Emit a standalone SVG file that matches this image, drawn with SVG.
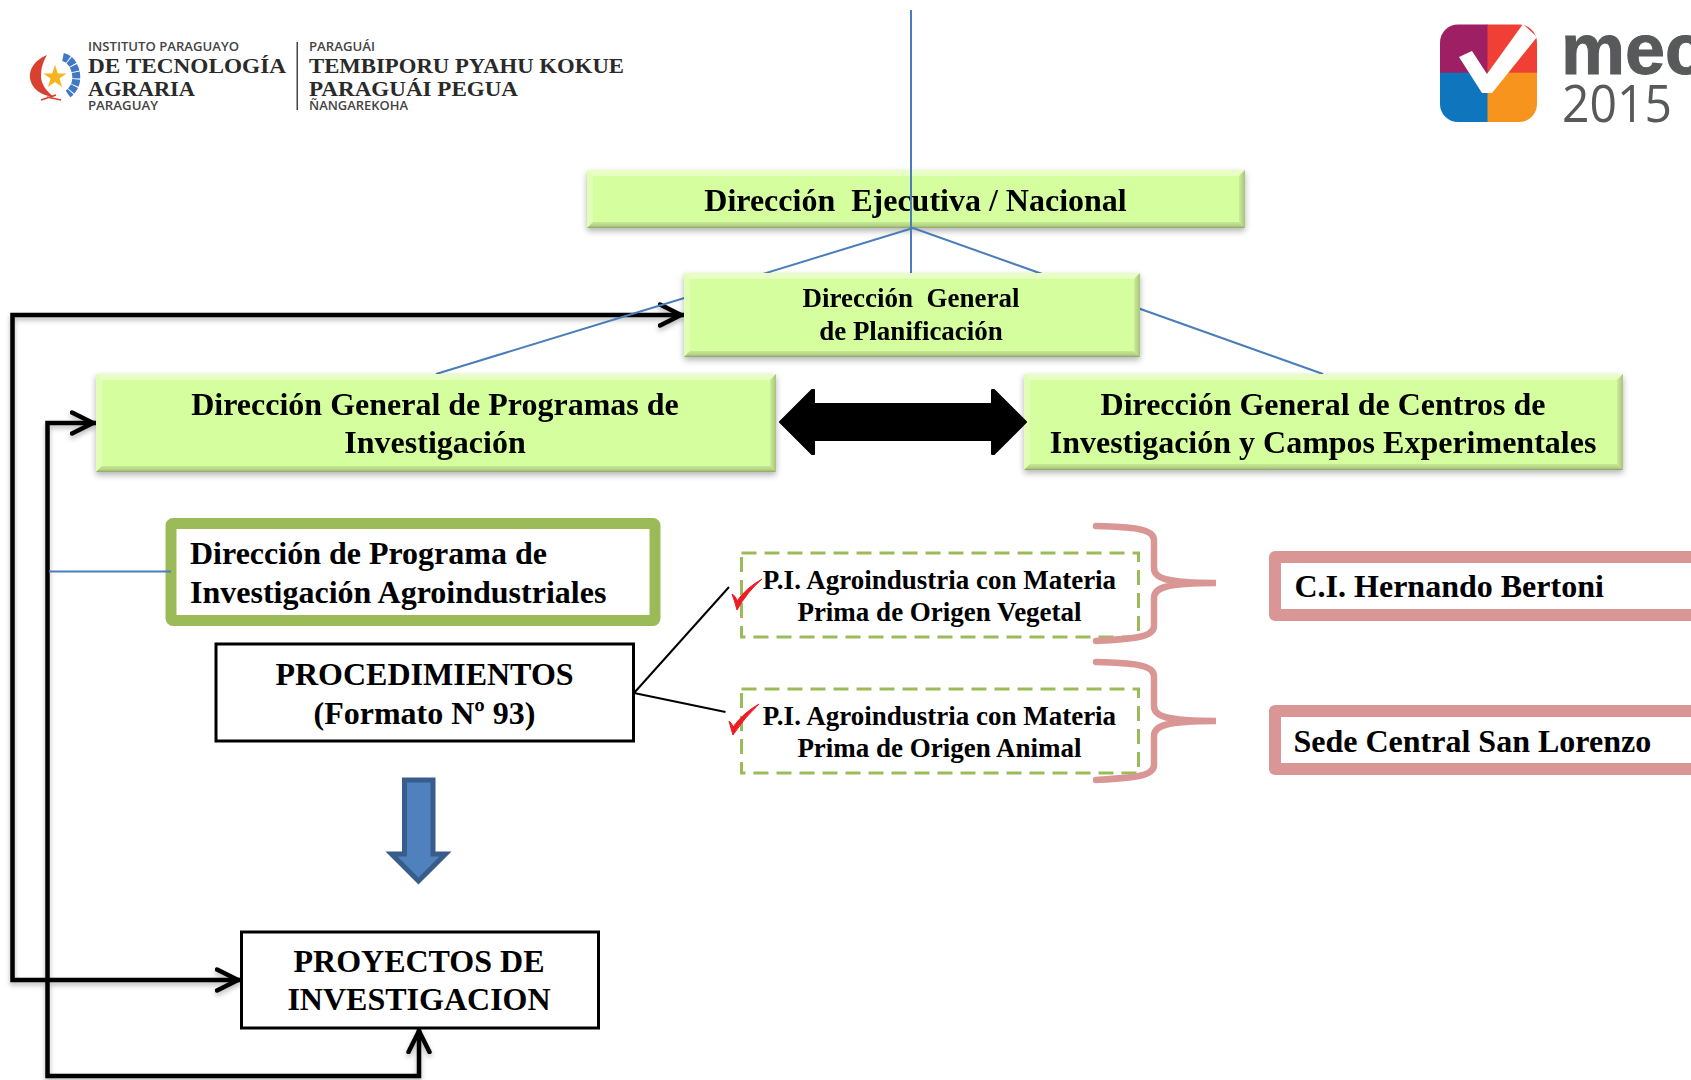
<svg xmlns="http://www.w3.org/2000/svg" width="1691" height="1080" viewBox="0 0 1691 1080">
<defs>
<filter id="sh" x="-5%" y="-20%" width="110%" height="140%"><feDropShadow dx="0" dy="3" stdDeviation="3" flood-color="#000" flood-opacity="0.3"/></filter>
<filter id="lsh" filterUnits="userSpaceOnUse" x="0" y="280" width="720" height="800"><feDropShadow dx="0" dy="3" stdDeviation="2.500" flood-color="#000" flood-opacity="0.28"/></filter>
<linearGradient id="gb" x1="0" y1="0" x2="0" y2="1"><stop offset="0" stop-color="#c6e894"/><stop offset="0.6" stop-color="#b4d384"/><stop offset="1" stop-color="#8ba568"/></linearGradient>
<linearGradient id="gr" x1="0" y1="0" x2="1" y2="0"><stop offset="0" stop-color="#cdee98"/><stop offset="1" stop-color="#a6c47c"/></linearGradient>
<marker id="open" markerUnits="userSpaceOnUse" markerWidth="32" markerHeight="30" refX="26" refY="13" orient="auto-start-reverse" viewBox="0 0 32 30"><path d="M2 2.500L23 13L2 23.500" fill="none" stroke="#000" stroke-width="4.500" stroke-linecap="round" stroke-linejoin="miter"/></marker>
</defs>
<style>
text{font-family:"Liberation Serif","Times New Roman",serif;font-weight:700;fill:#000;white-space:pre}
.c{text-anchor:middle}
.f32{font-size:32px}.f27{font-size:27px}
.bx{fill:#d5fe9f}.bt{fill:#e8ffc4}.bl{fill:#e0ffb4}.br{fill:url(#gr)}.bb{fill:url(#gb)}
.blue{fill:none;stroke:#4a7ebb;stroke-width:2}
.blk{fill:none;stroke:#000;stroke-width:4.500;stroke-linejoin:miter}
.thin{fill:none;stroke:#000;stroke-width:2}
.wb{fill:#fff;stroke:#000;stroke-width:3}
.dash{fill:#fff;stroke:#9bbb59;stroke-width:3;stroke-dasharray:15 8}
.brace{fill:none;stroke:#d99694;stroke-width:6.500;stroke-linecap:round}
.pink{fill:#fff;stroke:#d99694;stroke-width:12;stroke-linejoin:round}
.chk{fill:#ee1c25;stroke:#ee1c25;stroke-width:1}
.s{font-family:"Open Sans","Liberation Sans",sans-serif;font-weight:600;font-size:12px;fill:#444}
.lg{font-size:21.500px;font-weight:700;fill:#2a2a2a}
</style>

<g id="logo-ipta">
<path d="M47 55C35 60 27 70 31 82C34 91 44 96 54 97C46 91 41 84 41 76C41 68 43 62 47 55Z" fill="#d8402f"/>
<path d="M47 97L61 100M41 100L56 95" stroke="#d8402f" stroke-width="1.500" fill="none"/>
<path d="M63 57C68 58 72 62 74 67C77 73 77 82 74 87C72 90 71 92 68 94" fill="none" stroke="#3f78c4" stroke-width="8" stroke-dasharray="6 1"/>
<polygon points="55,65 57.900,73.500 66.500,73.500 59.500,78.500 62,87 55,82 48,87 50.500,78.500 43.500,73.500 52.100,73.500" fill="#f5b51e"/>
<text class="s" x="88" y="51" textLength="151" lengthAdjust="spacingAndGlyphs">INSTITUTO PARAGUAYO</text>
<text class="lg" x="88" y="73" textLength="198" lengthAdjust="spacingAndGlyphs">DE TECNOLOGÍA</text>
<text class="lg" x="88" y="96" textLength="107" lengthAdjust="spacingAndGlyphs">AGRARIA</text>
<text class="s" x="88" y="110" textLength="70" lengthAdjust="spacingAndGlyphs">PARAGUAY</text>
<rect x="296.500" y="42" width="1.500" height="68" fill="#444"/>
<text class="s" x="309" y="51" textLength="66" lengthAdjust="spacingAndGlyphs">PARAGUÁI</text>
<text class="lg" x="309" y="73" textLength="315" lengthAdjust="spacingAndGlyphs">TEMBIPORU PYAHU KOKUE</text>
<text class="lg" x="309" y="96" textLength="209" lengthAdjust="spacingAndGlyphs">PARAGUÁI PEGUA</text>
<text class="s" x="309" y="110" textLength="99" lengthAdjust="spacingAndGlyphs">ÑANGAREKOHA</text>
</g>

<g id="logo-mec">
<clipPath id="sq"><rect x="1440" y="24.500" width="97" height="97.500" rx="18"/></clipPath>
<g clip-path="url(#sq)">
<rect x="1440" y="24" width="48" height="49" fill="#9e1f63"/>
<rect x="1487.500" y="24" width="50" height="49" fill="#f04035"/>
<rect x="1440" y="72.700" width="48" height="50" fill="#0f75bc"/>
<rect x="1487.500" y="72.700" width="50" height="50" fill="#f7941d"/>
</g>
<polygon points="1459,57 1472,51 1487,74 1523,24 1537,37 1492,93 1482,93" fill="#fff"/>
<text x="1561" y="74" style="font-family:'Liberation Sans',sans-serif;font-weight:700;font-size:72px;fill:#58595b;stroke:#58595b;stroke-width:1">mec</text>
<text x="1562" y="122" textLength="110" lengthAdjust="spacingAndGlyphs" style="font-family:'Open Sans',sans-serif;font-weight:400;font-size:52px;fill:#58595b">2015</text>
</g>

<g id="dir-ejecutiva" filter="url(#sh)">
<rect class="bx" x="587" y="170" width="658" height="58"/>
<polygon class="bt" points="587,170 1245,170 1239,176 593,176"/>
<polygon class="bl" points="587,170 593,176 593,222 587,228"/>
<polygon class="br" points="1245,170 1245,228 1239,222 1239,176"/>
<polygon class="bb" points="587,228 1245,228 1239,222 593,222"/>
<text class="c f32" x="915.500" y="211">Dirección  Ejecutiva / Nacional</text>
</g>

<g id="dir-prog-agro">
<rect x="171" y="523.500" width="484" height="97" rx="2" fill="#fff" stroke="#9bbb59" stroke-width="11"/>
<text class="f32" x="190" y="564">Dirección de Programa de</text>
<text class="f32" x="190" y="603">Investigación Agroindustriales</text>
</g>

<g id="connectors">
<g filter="url(#lsh)">
<path class="blk" d="M684 315H12.500V980H241" marker-start="url(#open)" marker-end="url(#open)"/>
<path class="blk" d="M96 423H47.500V1076H419V1028" marker-start="url(#open)" marker-end="url(#open)"/>
</g>
<path class="blue" d="M911 10V273"/>
<path class="blue" d="M913 228L436 374"/>
<path class="blue" d="M913 228L1323 374"/>
<path class="blue" d="M49 571.500H171"/>
<path class="thin" d="M634 693L729 587"/>
<path class="thin" d="M634 693L725.500 712"/>
</g>

<g id="dir-planificacion" filter="url(#sh)">
<rect class="bx" x="684" y="273" width="456" height="84"/>
<polygon class="bt" points="684,273 1140,273 1134,279 690,279"/>
<polygon class="bl" points="684,273 690,279 690,351 684,357"/>
<polygon class="br" points="1140,273 1140,357 1134,351 1134,279"/>
<polygon class="bb" points="684,357 1140,357 1134,351 690,351"/>
<text class="c f27" x="911" y="307">Dirección  General</text>
<text class="c f27" x="911" y="340">de Planificación</text>
</g>

<g id="dir-programas" filter="url(#sh)">
<rect class="bx" x="96" y="374" width="680" height="98"/>
<polygon class="bt" points="96,374 776,374 770,380 102,380"/>
<polygon class="bl" points="96,374 102,380 102,466 96,472"/>
<polygon class="br" points="776,374 776,472 770,466 770,380"/>
<polygon class="bb" points="96,472 776,472 770,466 102,466"/>
<text class="c f32" x="435" y="414.500">Dirección General de Programas de</text>
<text class="c f32" x="435" y="452.500">Investigación</text>
</g>

<g id="dir-centros" filter="url(#sh)">
<rect class="bx" x="1024" y="374" width="599" height="96"/>
<polygon class="bt" points="1024,374 1623,374 1617,380 1030,380"/>
<polygon class="bl" points="1024,374 1030,380 1030,464 1024,470"/>
<polygon class="br" points="1623,374 1623,470 1617,464 1617,380"/>
<polygon class="bb" points="1024,470 1623,470 1617,464 1030,464"/>
<text class="c f32" x="1323" y="414.500">Dirección General de Centros de</text>
<text class="c f32" x="1323" y="452.500">Investigación y Campos Experimentales</text>
</g>

<g id="double-arrow">
<polygon points="780,422 812,390 814,390 814,404 992,404 992,390 994,390 1026,422 994,454 992,454 992,440 814,440 814,454 812,454" fill="#000" stroke="#000" stroke-width="2" stroke-linejoin="round"/>
</g>

<g id="procedimientos">
<rect class="wb" x="216" y="644" width="417.500" height="97"/>
<text class="c f32" x="424.500" y="684.500">PROCEDIMIENTOS</text>
<text class="c f32" x="424.500" y="723.500">(Formato Nº 93)</text>
</g>

<g id="pi-vegetal">
<rect class="dash" x="741.500" y="553" width="397" height="84"/>
<path class="chk" d="M732 594Q736 596 737 601Q746 588 762 579Q747 592 737 610Q735 602 732 594Z"/>
<text class="c f27" x="939.500" y="588.500">P.I. Agroindustria con Materia</text>
<text class="c f27" x="939.500" y="620.500">Prima de Origen Vegetal</text>
</g>

<g id="pi-animal">
<rect class="dash" x="741.500" y="689" width="397" height="84"/>
<path class="chk" d="M729 721Q732 723 733 727Q743 713 759 704Q744 718 733 735Q731 729 729 721Z"/>
<text class="c f27" x="939.500" y="724.500">P.I. Agroindustria con Materia</text>
<text class="c f27" x="939.500" y="756.500">Prima de Origen Animal</text>
</g>

<g id="brace-1"><path class="brace" d="M1096 526C1130 527 1154 528 1154 540V568C1154 578 1165 583 1216 583C1165 583 1154 588 1154 598V626C1154 638 1130 639 1096 641"/></g>
<g id="brace-2"><path class="brace" d="M1096 662C1130 663 1154 664 1154 676V706C1154 716 1165 721 1216 721C1165 721 1154 726 1154 736V765C1154 777 1130 778 1096 780"/></g>

<g id="ci-bertoni">
<rect class="pink" x="1275" y="557" width="500" height="58"/>
<text class="f32" x="1294.500" y="596.500">C.I. Hernando Bertoni</text>
</g>
<g id="sede-central">
<rect class="pink" x="1275" y="711" width="500" height="58"/>
<text class="f32" x="1293.500" y="751.500">Sede Central San Lorenzo</text>
</g>

<g id="down-arrow">
<polygon points="404.500,780 433,780 433,854 445.500,854 418.500,881 391.500,854 404.500,854" fill="#4f81bd" stroke="#385d8a" stroke-width="5"/>
</g>

<g id="proyectos">
<rect class="wb" x="241.500" y="932" width="357" height="96"/>
<text class="c f32" x="419" y="971.500">PROYECTOS DE</text>
<text class="c f32" x="419" y="1009.500">INVESTIGACION</text>
</g>
</svg>
